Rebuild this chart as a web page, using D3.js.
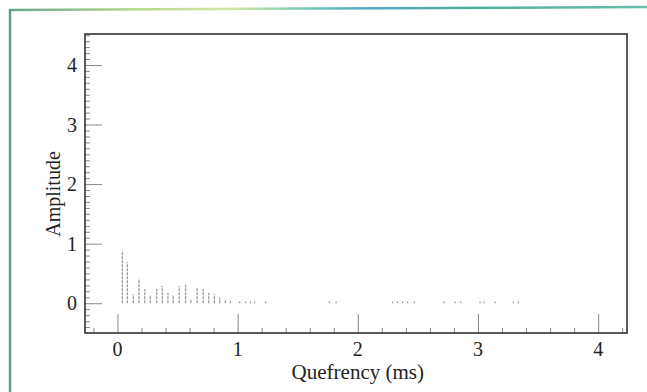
<!DOCTYPE html>
<html>
<head>
<meta charset="utf-8">
<script src="https://cdn.jsdelivr.net/npm/d3@7"></script>
<style>
  body { margin: 0; background: #fff; }
  svg { display: block; }
</style>
</head>
<body>
<div id="chart"></div>
<script>
// cepstrum peaks (quefrency in ms, amplitude)
const quefrency = [0.041, 0.082, 0.132, 0.179, 0.227, 0.273, 0.326, 0.373, 0.420, 0.464,
                   0.514, 0.567, 0.611, 0.663, 0.713, 0.760, 0.807, 0.851, 0.898, 0.940];
const amplitude = [0.88, 0.69, 0.15, 0.41, 0.24, 0.14, 0.24, 0.29, 0.17, 0.14,
                   0.29, 0.31, 0.07, 0.27, 0.24, 0.17, 0.15, 0.09, 0.05, 0.04];
// small residual peaks further out
const tailQuefrency = [1.017, 1.067, 1.106, 1.142, 1.233, 1.764, 1.820, 2.290, 2.331, 2.373,
                       2.414, 2.470, 2.718, 2.809, 2.857, 3.017, 3.050, 3.141, 3.294, 3.335];
const tailAmplitude = [0.03, 0.03, 0.03, 0.03, 0.03, 0.03, 0.03, 0.03, 0.03, 0.03,
                       0.03, 0.03, 0.03, 0.03, 0.03, 0.03, 0.03, 0.03, 0.03, 0.03];
const xTicks = [0, 1, 2, 3, 4];
const yTicks = [0, 1, 2, 3, 4];

const width = 647, height = 392;
const box = {left: 85, right: 627, top: 34, bottom: 333};

const svg = d3.select("#chart").append("svg")
    .attr("width", width)
    .attr("height", height);

// scanned page frame
const grad = svg.append("defs").append("linearGradient")
    .attr("id", "frameGrad")
    .attr("x1", "0%").attr("x2", "100%");
[["0%", "#6aa58f"], ["20%", "#b9d98f"], ["35%", "#d3e6a6"], ["48%", "#6cc3b3"],
 ["56%", "#5aa7c9"], ["70%", "#4fae9c"], ["100%", "#6cbca8"]].forEach(s => {
    grad.append("stop").attr("offset", s[0]).attr("stop-color", s[1]);
});
svg.append("line")
    .attr("x1", 9).attr("y1", 10).attr("x2", 647).attr("y2", 7)
    .attr("stroke", "url(#frameGrad)").attr("stroke-width", 2.5);
svg.append("line")
    .attr("x1", 10).attr("y1", 9).attr("x2", 10).attr("y2", 392)
    .attr("stroke", "#5e9c88").attr("stroke-width", 2.5);

let x = d3.scaleLinear()
    .domain([-0.27, 4.24])
    .range([box.left, box.right]);

let y = d3.scaleLinear()
    .domain([-0.5, 4.52])
    .range([box.bottom, box.top]);

// peaks
const peaks = quefrency.map((q, i) => ({q: q, a: amplitude[i]}))
    .concat(tailQuefrency.map((q, i) => ({q: q, a: tailAmplitude[i]})));

svg.selectAll(".peak")
    .data(peaks)
    .enter()
    .append("line")
    .attr("class", "peak")
    .attr("x1", d => x(d.q))
    .attr("x2", d => x(d.q))
    .attr("y1", y(0))
    .attr("y2", d => y(d.a))
    .attr("stroke", "#9a9a9a")
    .attr("stroke-width", 1.3)
    .attr("stroke-dasharray", "3,1");

// y axis ticks (inside the box)
const yAxis = d3.axisRight(y)
    .tickValues(d3.range(-4, 46).map(d => d / 10))
    .tickSize(5)
    .tickFormat("");
const yg = svg.append("g")
    .attr("transform", `translate(${box.left},0)`)
    .call(yAxis);
yg.select(".domain").remove();
yg.selectAll(".tick line")
    .attr("stroke", "#888")
    .attr("x2", d => Math.abs(d - Math.round(d)) < 1e-6 ? 17 : 5);

// x axis ticks (inside the box)
const xAxis = d3.axisTop(x)
    .tickValues(d3.range(-1, 22).map(d => d / 5))
    .tickSize(5)
    .tickFormat("");
const xg = svg.append("g")
    .attr("transform", `translate(0,${box.bottom})`)
    .call(xAxis);
xg.select(".domain").remove();
xg.selectAll(".tick line")
    .attr("stroke", "#888")
    .attr("y2", d => Math.abs(d - Math.round(d)) < 1e-6 ? -19 : -5);

// plot box
svg.append("rect")
    .attr("x", box.left)
    .attr("y", box.top)
    .attr("width", box.right - box.left)
    .attr("height", box.bottom - box.top)
    .attr("fill", "none")
    .attr("stroke", "#333")
    .attr("stroke-width", 1.6);

// tick labels
svg.selectAll(".xlab")
    .data(xTicks)
    .enter()
    .append("text")
    .attr("class", "xlab")
    .attr("x", d => x(d))
    .attr("y", 356)
    .attr("text-anchor", "middle")
    .attr("font-family", "Liberation Serif, serif")
    .attr("font-size", 20)
    .attr("fill", "#222")
    .text(d => d);

svg.selectAll(".ylab")
    .data(yTicks)
    .enter()
    .append("text")
    .attr("class", "ylab")
    .attr("x", 77)
    .attr("y", d => y(d) + 7)
    .attr("text-anchor", "end")
    .attr("font-family", "Liberation Serif, serif")
    .attr("font-size", 20)
    .attr("fill", "#222")
    .text(d => d);

// axis titles
svg.append("text")
    .attr("x", x(2))
    .attr("y", 379)
    .attr("text-anchor", "middle")
    .attr("font-family", "Liberation Serif, serif")
    .attr("font-size", 21)
    .attr("fill", "#222")
    .text("Quefrency (ms)");

svg.append("text")
    .attr("transform", "translate(60,194) rotate(-90)")
    .attr("text-anchor", "middle")
    .attr("font-family", "Liberation Serif, serif")
    .attr("font-size", 20)
    .attr("fill", "#222")
    .text("Amplitude");
</script>
</body>
</html>
